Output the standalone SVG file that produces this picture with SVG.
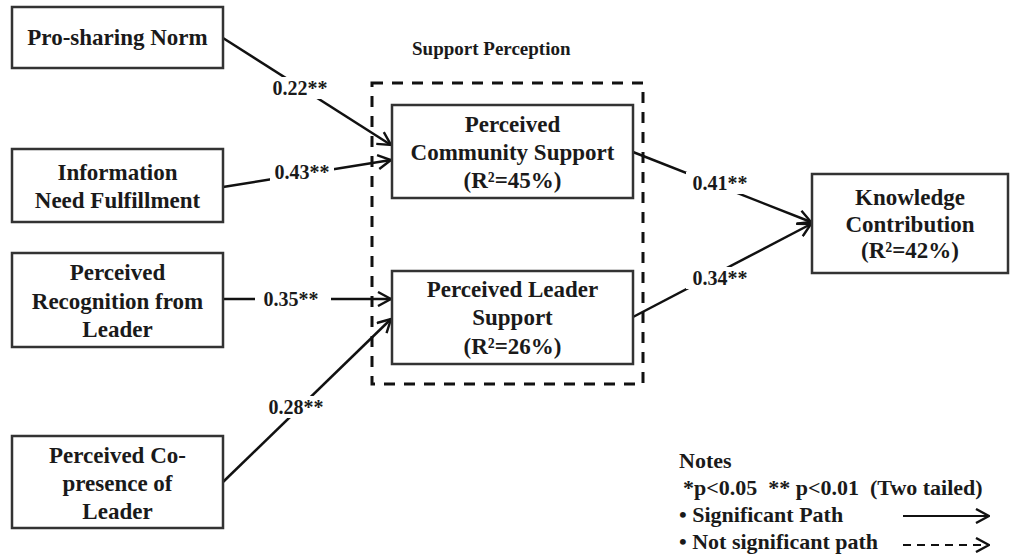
<svg xmlns="http://www.w3.org/2000/svg" width="1011" height="555" viewBox="0 0 1011 555">
<style>
text{font-family:"Liberation Serif","Times New Roman",serif;font-weight:bold;fill:#1a1a1a}
.n{font-size:23px;text-anchor:middle}
.lb{font-size:20px;text-anchor:middle}
.nt{font-size:22px}
.box{fill:#fff;stroke:#333;stroke-width:2.5}
.c{stroke:#111;stroke-width:2.5;fill:none}
.bg{fill:#fff;stroke:none}
</style>
<defs>
<marker id="ah" viewBox="0 0 16 16" refX="15" refY="8" markerWidth="16" markerHeight="16" markerUnits="userSpaceOnUse" orient="auto">
<path d="M2,1 L15,8 L2,15" fill="none" stroke="#111" stroke-width="2.4"/>
</marker>
</defs>
<rect width="1011" height="555" fill="#fff"/>
<g id="support-perception">
<rect x="372" y="83" width="271" height="301" fill="none" stroke="#111" stroke-width="3" stroke-dasharray="11,9"/>
<text x="412" y="55" style="font-size:19px">Support Perception</text>
</g>
<g id="connectors">
<line class="c" x1="223" y1="38" x2="391" y2="145" marker-end="url(#ah)"/>
<line class="c" x1="223" y1="187" x2="391" y2="160" marker-end="url(#ah)"/>
<line class="c" x1="223" y1="299" x2="391" y2="299" marker-end="url(#ah)"/>
<line class="c" x1="223" y1="482" x2="391" y2="319" marker-end="url(#ah)"/>
<line class="c" x1="633" y1="152" x2="811" y2="222" marker-end="url(#ah)"/>
<line class="c" x1="633" y1="317" x2="811" y2="224" marker-end="url(#ah)"/>
<rect class="bg" x="270" y="77" width="62" height="22"/>
<rect class="bg" x="270" y="161" width="64" height="22"/>
<rect class="bg" x="255" y="288" width="76" height="22"/>
<rect class="bg" x="262" y="396" width="66" height="22"/>
<rect class="bg" x="686" y="172" width="66" height="22"/>
<rect class="bg" x="686" y="267" width="66" height="22"/>
<text class="lb" x="300" y="95">0.22**</text>
<text class="lb" x="302" y="179">0.43**</text>
<text class="lb" x="291" y="306">0.35**</text>
<text class="lb" x="296" y="414">0.28**</text>
<text class="lb" x="720" y="190">0.41**</text>
<text class="lb" x="720" y="285">0.34**</text>
</g>
<g id="pro-sharing-norm">
<rect class="box" x="12" y="7" width="211" height="61"/>
<text class="n" x="117.5" y="45">Pro-sharing Norm</text>
</g>
<g id="information-need">
<rect class="box" x="12" y="149" width="211" height="73"/>
<text class="n" x="117.5" y="180">Information</text>
<text class="n" x="117.5" y="208">Need Fulfillment</text>
</g>
<g id="perceived-recognition">
<rect class="box" x="12" y="253" width="211" height="94"/>
<text class="n" x="117.5" y="280">Perceived</text>
<text class="n" x="117.5" y="309">Recognition from</text>
<text class="n" x="117.5" y="337">Leader</text>
</g>
<g id="perceived-copresence">
<rect class="box" x="12" y="436" width="211" height="92"/>
<text class="n" x="117.5" y="463">Perceived Co-</text>
<text class="n" x="117.5" y="491">presence of</text>
<text class="n" x="117.5" y="519">Leader</text>
</g>
<g id="community-support">
<rect class="box" x="392" y="105" width="241" height="93"/>
<text class="n" x="512.5" y="132">Perceived</text>
<text class="n" x="512.5" y="160">Community Support</text>
<text class="n" x="512.5" y="188">(R²=45%)</text>
</g>
<g id="leader-support">
<rect class="box" x="392" y="271" width="241" height="93"/>
<text class="n" x="512.5" y="297">Perceived Leader</text>
<text class="n" x="512.5" y="325">Support</text>
<text class="n" x="512.5" y="354">(R²=26%)</text>
</g>
<g id="knowledge-contribution">
<rect class="box" x="812" y="174" width="196" height="99"/>
<text class="n" x="910" y="205">Knowledge</text>
<text class="n" x="910" y="232">Contribution</text>
<text class="n" x="910" y="258">(R²=42%)</text>
</g>
<g id="notes">
<text class="nt" x="679" y="468">Notes</text>
<text class="nt" x="683" y="495" xml:space="preserve">*p&lt;0.05  ** p&lt;0.01  (Two tailed)</text>
<text class="nt" x="679" y="522">• Significant Path</text>
<text class="nt" x="679" y="549">• Not significant path</text>
<line x1="903" y1="516" x2="989" y2="516" stroke="#111" stroke-width="2" marker-end="url(#ah)"/>
<line x1="903" y1="545" x2="989" y2="545" stroke="#111" stroke-width="2" stroke-dasharray="8,6" marker-end="url(#ah)"/>
</g>
</svg>
